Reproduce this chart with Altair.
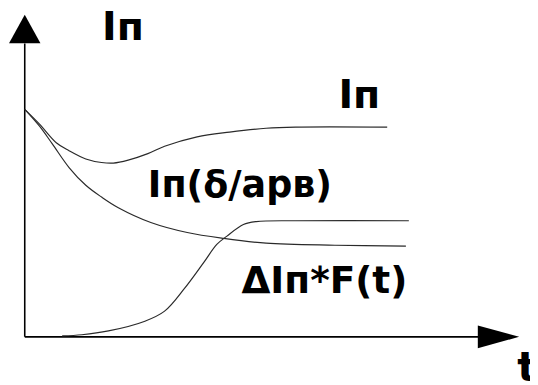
import altair as alt
import pandas as pd

# ---- data (t: time units, v: current units) ----
ip_t = [0, 0.3, 0.64, 0.9, 1.24, 1.56, 1.8, 2.1, 2.5, 2.84, 3.5, 4.16, 4.9, 5.5, 7.36]
ip_v = [7.7, 7.2, 6.57, 6.3, 6.02, 5.9, 5.88, 5.98, 6.2, 6.45, 6.77, 6.93, 7.06, 7.1, 7.1]

ipd_t = [0, 0.3, 0.56, 0.9, 1.24, 1.56, 1.9, 2.56, 3.3, 4.04, 4.9, 6.3, 7.74]
ipd_v = [7.7, 7.13, 6.53, 5.73, 5.13, 4.73, 4.37, 3.87, 3.53, 3.33, 3.17, 3.1, 3.07]

dif_t = [0.76, 1.16, 1.7, 2.44, 2.84, 3.24, 3.64, 3.9, 4.1, 4.44, 4.7, 5.5, 7.8]
dif_v = [0.03, 0.07, 0.2, 0.53, 0.87, 1.63, 2.53, 3.13, 3.4, 3.8, 3.9, 3.93, 3.93]

label_text = ["Iп", "Iп", "Iп(δ/арв)", "ΔIп*F(t)", "t"]
label_t = [1.57, 6.37, 2.5, 4.4, 10.0]
label_v = [10.03, 7.73, 4.73, 1.47, -1.5]
label_size = [40, 40, 37, 38, 42]

axis_end_t = 9.24
axis_end_v = 9.93
arrow_y_pos = (0, 10.42)
arrow_x_pos = (9.62, 0)

# ---- tables ----
rows = []
for name, ts, vs in [("ip", ip_t, ip_v), ("ipd", ipd_t, ipd_v), ("dif", dif_t, dif_v)]:
    for i, (t, v) in enumerate(zip(ts, vs)):
        rows.append({"series": name, "t": t, "v": v, "o": i})
curves = pd.DataFrame(rows)

labels = pd.DataFrame({"text": label_text, "t": label_t, "v": label_v, "size": label_size})

axes_df = pd.DataFrame({"t": [0, 0], "v": [0, 0], "t2": [0, axis_end_t], "v2": [axis_end_v, 0]})

xs = alt.Scale(domain=[0, 10], nice=False)
ys = alt.Scale(domain=[0, 10], nice=False)

X = lambda f: alt.X(f, type="quantitative", scale=xs, axis=None)
Y = lambda f: alt.Y(f, type="quantitative", scale=ys, axis=None)

lines = alt.Chart(curves).mark_line(interpolate="catmull-rom", color="#2a2a2a", strokeWidth=1.2).encode(
    x=X("t"), y=Y("v"), detail="series:N", order="o:Q"
)

axes = alt.Chart(axes_df).mark_rule(color="black", strokeWidth=1.6).encode(
    x=X("t"), y=Y("v"), x2="t2:Q", y2="v2:Q"
)

arrow_up = alt.Chart(pd.DataFrame({"t": [arrow_y_pos[0]], "v": [arrow_y_pos[1]]})).mark_point(
    shape="M0,-1L1.1,1L-1.1,1Z", filled=True, color="black", opacity=1, size=841
).encode(x=X("t"), y=Y("v"))

arrow_right = alt.Chart(pd.DataFrame({"t": [arrow_x_pos[0]], "v": [arrow_x_pos[1]]})).mark_point(
    shape="M1,0L-1,-0.55L-1,0.55Z", filled=True, color="black", opacity=1, size=1764
).encode(x=X("t"), y=Y("v"))

texts = alt.Chart(labels).mark_text(
    align="left", baseline="alphabetic", font="DejaVu Sans", fontWeight="bold", color="black"
).encode(
    x=X("t"), y=Y("v"), text="text:N", size=alt.Size("size:Q", scale=None, legend=None)
)

chart = alt.layer(axes, lines, arrow_up, arrow_right, texts).properties(
    width=500, height=300,
    autosize=alt.AutoSizeParams(type="none"),
    padding={"left": 17, "top": 31, "right": 13, "bottom": 46},
    background="white",
).configure_view(stroke=None)

chart.save("out.html", embed_options={"renderer": "svg", "actions": False})
